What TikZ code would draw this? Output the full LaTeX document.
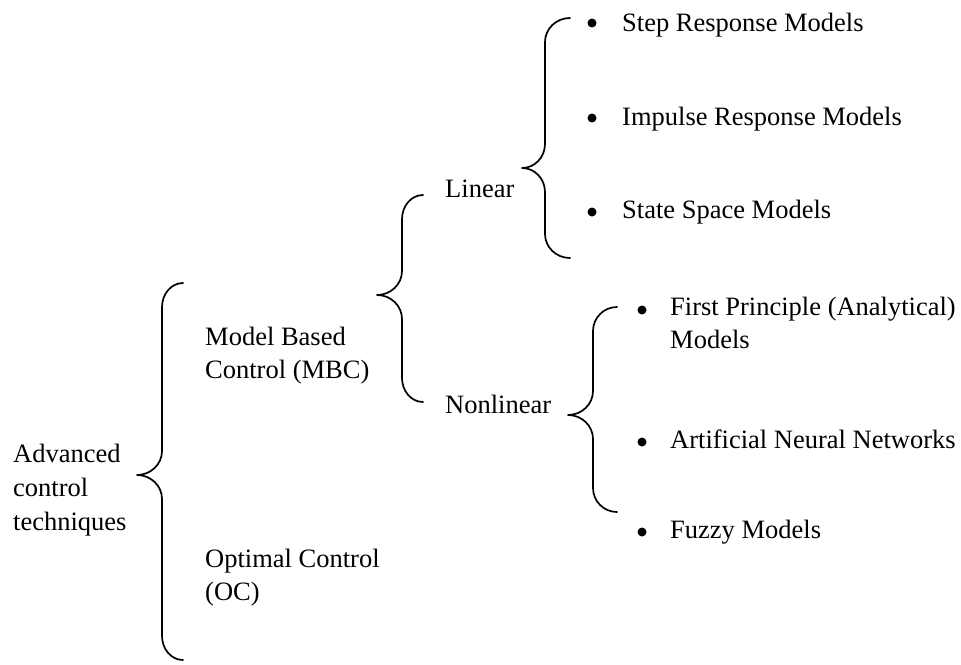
\documentclass[tikz,border=0pt]{standalone}
\usepackage{fontspec}
\setmainfont{Liberation Serif}
\begin{document}
\begin{tikzpicture}[x=1pt,y=-1pt,
  lbl/.style={anchor=base west,inner sep=0pt,font=\fontsize{26.5}{34}\selectfont},
  bul/.style={circle,fill=black,inner sep=0pt,minimum size=9pt},
  bracel/.style={line width=1.7pt,line cap=round,line join=round}]
\useasboundingbox (0,0) rectangle (961,664);
% #1 xe, #2 xv, #3 xt, #4 ytop, #5 ytip, #6 ybot
\newcommand\curlybr[6]{%
  \draw[bracel] (#1,#4) .. controls ({#1-0.552*(#1-#2)},#4) and (#2,{#4+24-0.552*24}) .. (#2,#4+24)
    -- (#2,#5-24) .. controls (#2,{#5-24+0.552*24}) and ({#3+0.552*(#2-#3)},#5) .. (#3,#5)
    .. controls ({#3+0.552*(#2-#3)},#5) and (#2,{#5+24-0.552*24}) .. (#2,#5+24)
    -- (#2,#6-24) .. controls (#2,{#6-24+0.552*24}) and ({#1-0.552*(#1-#2)},#6) .. (#1,#6);}
% text
\node[lbl] (adv1) at (13,462) {Advanced};
\node[lbl] (adv2) at (13,496) {control};
\node[lbl] (adv3) at (13,530) {techniques};
\node[lbl] (mbc1) at (205,345) {Model Based};
\node[lbl] (mbc2) at (205,378) {Control (MBC)};
\node[lbl] (oc1) at (205,567) {Optimal Control};
\node[lbl] (oc2) at (205,600) {(OC)};
\node[lbl] (lin) at (445,197) {Linear};
\node[lbl] (nlin) at (445,413) {Nonlinear};
% linear items
\node[bul] (b1) at (592,23) {};
\node[lbl] (srm) at (622,31) {Step Response Models};
\node[bul] (b2) at (592,118) {};
\node[lbl] (irm) at (622,125) {Impulse Response Models};
\node[bul] (b3) at (592,212) {};
\node[lbl] (ssm) at (622,218) {State Space Models};
% nonlinear items
\node[bul] (b4) at (642,310) {};
\node[lbl] (fpm1) at (670,315) {First Principle (Analytical)};
\node[lbl] (fpm2) at (670,348) {Models};
\node[bul] (b5) at (642,442) {};
\node[lbl] (ann) at (670,448) {Artificial Neural Networks};
\node[bul] (b6) at (642,532) {};
\node[lbl] (fuz) at (670,538) {Fuzzy Models};
% braces
\curlybr{183}{162}{137}{283}{475}{660}
\curlybr{423}{402}{377}{195}{295}{402}
\curlybr{570}{545}{522}{18}{168}{258}
\curlybr{617}{593}{568}{307}{415}{512}
\end{tikzpicture}
\end{document}
